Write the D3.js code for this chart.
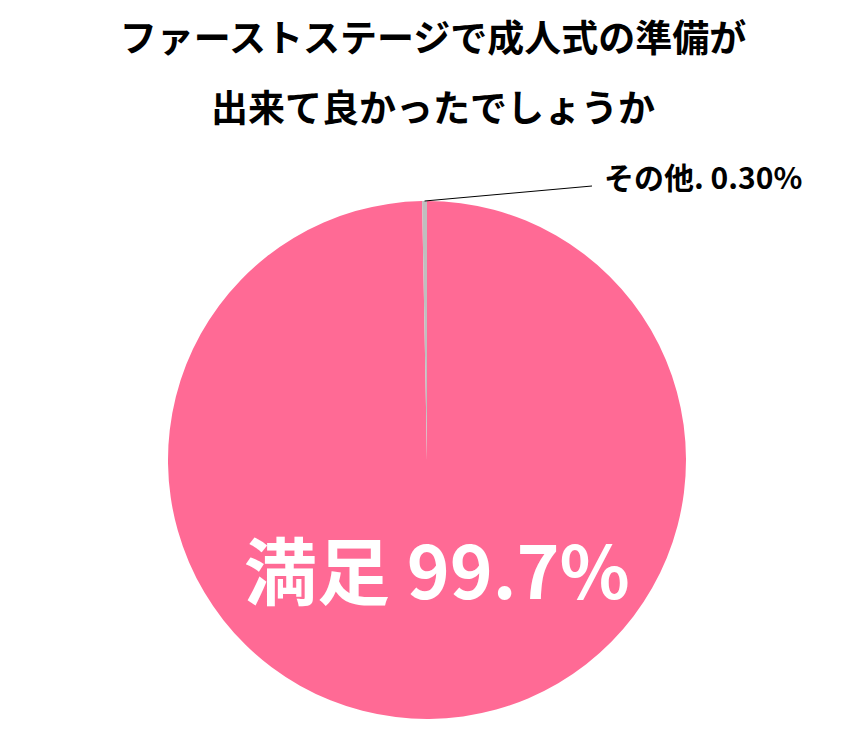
<!DOCTYPE html>
<html>
<head>
<meta charset="utf-8">
<script src="https://cdn.jsdelivr.net/npm/d3@7"></script>
<style>
body{margin:0;background:#fff;}
text{font-family:"Noto Sans CJK JP","Noto Sans",sans-serif;font-weight:bold;}
</style>
</head>
<body>
<svg id="chart" width="850" height="749"></svg>
<script>
// data
var categories=["満足","その他"];
var values=[99.7,0.3];
var labels=["満足 99.7%","その他. 0.30%"];
var colors=["#FF6A95","#BFBFBF"];
var titleLines=["ファーストステージで成人式の準備が","出来て良かったでしょうか"];

var svg=d3.select("#chart");
var cx=427,cy=460,r=259;

// title
svg.selectAll(".title").data(titleLines).enter().append("text")
	.attr("class","title")
	.attr("x",433).attr("y",function(d,i){return 52+i*70;})
	.attr("text-anchor","middle").attr("font-size",37).attr("fill","#000")
	.text(function(d){return d;});

var pie=d3.pie().sort(null).value(function(d){return d;});
var arcs=pie(values);
var arc=d3.arc().innerRadius(0).outerRadius(r);

var g=svg.append("g").attr("transform","translate("+cx+","+cy+")");
g.selectAll("path").data(arcs).enter().append("path")
	.attr("d",arc)
	.attr("fill",function(d,i){return colors[i];});

// big label inside the main slice
g.append("text")
	.attr("x",10).attr("y",139)
	.attr("text-anchor","middle").attr("font-size",73).attr("fill","#fff")
	.text(labels[0]);

// leader line and label for the small slice
var small=arcs[1];
var mid=(small.startAngle+small.endAngle)/2;
var p0=[Math.sin(mid)*r,-Math.cos(mid)*r];
g.append("line")
	.attr("x1",p0[0]).attr("y1",p0[1])
	.attr("x2",165).attr("y2",-274)
	.attr("stroke","#000").attr("stroke-width",1);
g.append("text")
	.attr("x",177).attr("y",-271)
	.attr("font-size",30).attr("fill","#000")
	.text(labels[1]);
</script>
</body>
</html>
